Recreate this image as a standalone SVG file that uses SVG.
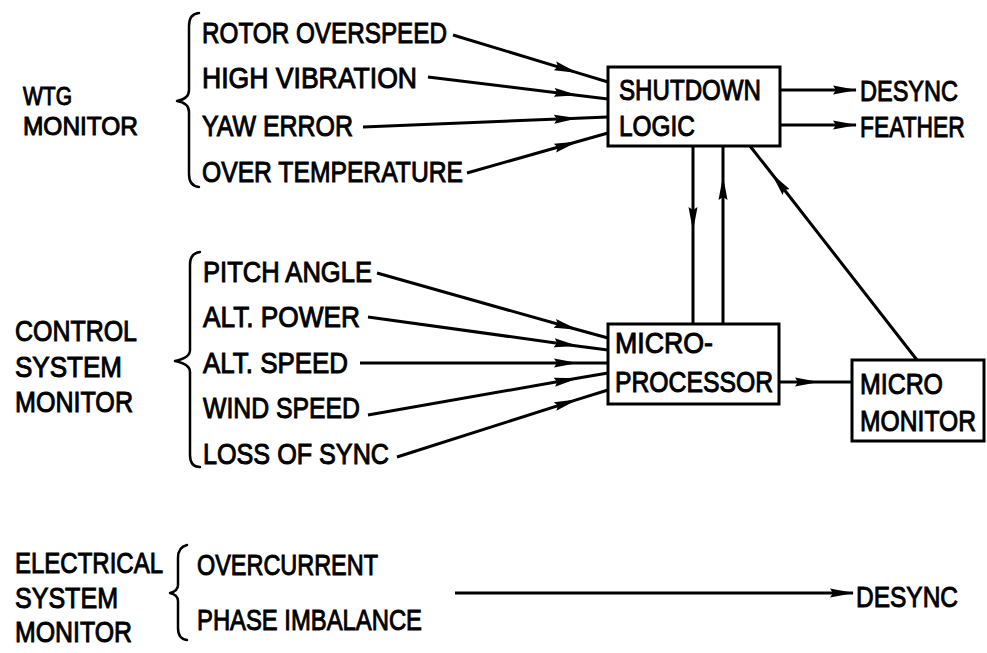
<svg xmlns="http://www.w3.org/2000/svg" width="987" height="653" viewBox="0 0 987 653">
<style>
.t{font-family:"Liberation Sans Narrow","Liberation Sans",Arial,sans-serif;font-size:30px;fill:#000;stroke:#000;stroke-width:1}
.s{font-size:26px}
.box{fill:#fff;stroke:#000;stroke-width:3}
.ln{fill:none;stroke:#000;stroke-width:3;stroke-linejoin:round}
.brace{fill:none;stroke:#000;stroke-width:2.5;stroke-linecap:round;stroke-linejoin:round}
</style>
<defs>
<marker id="ah" markerUnits="userSpaceOnUse" viewBox="0 0 24 10" refX="23" refY="5" markerWidth="24" markerHeight="10" orient="auto">
<path d="M0,0.5 L24,5 L0,9.5 L3,5 z" fill="#000"/>
</marker>
</defs>
<rect width="987" height="653" fill="#fff"/>

<g id="wtg-monitor">
<text class="t s" x="23" y="105" textLength="49" lengthAdjust="spacingAndGlyphs">WTG</text>
<text class="t s" x="23" y="135" textLength="115" lengthAdjust="spacingAndGlyphs">MONITOR</text>
<path class="brace" d="M199,13 Q189,14 189,26 L189,90 Q189,99 177,101 Q189,103 189,112 L189,174 Q189,186 199,187"/>
<text class="t" x="202" y="43" textLength="245" lengthAdjust="spacingAndGlyphs">ROTOR OVERSPEED</text>
<text class="t" x="202" y="88" textLength="215" lengthAdjust="spacingAndGlyphs">HIGH VIBRATION</text>
<text class="t" x="202" y="136" textLength="151" lengthAdjust="spacingAndGlyphs">YAW ERROR</text>
<text class="t" x="202" y="182" textLength="261" lengthAdjust="spacingAndGlyphs">OVER TEMPERATURE</text>
</g>

<g id="control-monitor">
<text class="t" x="15" y="341" textLength="122" lengthAdjust="spacingAndGlyphs">CONTROL</text>
<text class="t" x="15" y="377" textLength="107" lengthAdjust="spacingAndGlyphs">SYSTEM</text>
<text class="t" x="15" y="412" textLength="118" lengthAdjust="spacingAndGlyphs">MONITOR</text>
<path class="brace" d="M200,252 Q190,253 190,265 L190,350 Q190,358 175,361 Q190,364 190,372 L190,455 Q190,467 200,467"/>
<text class="t" x="203" y="282" textLength="169" lengthAdjust="spacingAndGlyphs">PITCH ANGLE</text>
<text class="t" x="203" y="327" textLength="157" lengthAdjust="spacingAndGlyphs">ALT. POWER</text>
<text class="t" x="203" y="373" textLength="145" lengthAdjust="spacingAndGlyphs">ALT. SPEED</text>
<text class="t" x="203" y="418" textLength="157" lengthAdjust="spacingAndGlyphs">WIND SPEED</text>
<text class="t" x="203" y="464" textLength="186" lengthAdjust="spacingAndGlyphs">LOSS OF SYNC</text>
</g>

<g id="electrical-monitor">
<text class="t" x="15" y="573" textLength="148" lengthAdjust="spacingAndGlyphs">ELECTRICAL</text>
<text class="t" x="15" y="608" textLength="103" lengthAdjust="spacingAndGlyphs">SYSTEM</text>
<text class="t" x="15" y="642" textLength="117" lengthAdjust="spacingAndGlyphs">MONITOR</text>
<path class="brace" d="M187,545 Q178,547 178,558 L178,585 Q178,591 170,593 Q178,595 178,601 L178,628 Q178,639 187,640"/>
<text class="t" x="197" y="575" textLength="181" lengthAdjust="spacingAndGlyphs">OVERCURRENT</text>
<text class="t" x="197" y="630" textLength="225" lengthAdjust="spacingAndGlyphs">PHASE IMBALANCE</text>
</g>

<g id="shutdown-logic">
<rect class="box" x="608" y="67" width="172" height="79"/>
<text class="t" x="619" y="100" textLength="142" lengthAdjust="spacingAndGlyphs">SHUTDOWN</text>
<text class="t" x="619" y="136" textLength="76" lengthAdjust="spacingAndGlyphs">LOGIC</text>
</g>

<g id="microprocessor">
<rect class="box" x="608" y="324" width="171" height="80"/>
<text class="t" x="615" y="353" textLength="98" lengthAdjust="spacingAndGlyphs">MICRO-</text>
<text class="t" x="615" y="392" textLength="158" lengthAdjust="spacingAndGlyphs">PROCESSOR</text>
</g>

<g id="micro-monitor">
<rect class="box" x="852" y="360" width="132" height="81"/>
<text class="t" x="860" y="394" textLength="83" lengthAdjust="spacingAndGlyphs">MICRO</text>
<text class="t" transform="translate(860,431) scale(0.8,1)" x="0" y="0" textLength="145" lengthAdjust="spacingAndGlyphs">MONITOR</text>
</g>

<g id="outputs">
<text class="t" x="860" y="101" textLength="98" lengthAdjust="spacingAndGlyphs">DESYNC</text>
<text class="t" transform="translate(860,137) scale(0.8,1)" x="0" y="0" textLength="131" lengthAdjust="spacingAndGlyphs">FEATHER</text>
<text class="t" x="856" y="607" textLength="102" lengthAdjust="spacingAndGlyphs">DESYNC</text>
</g>

<g id="connectors">
<path class="ln" marker-mid="url(#ah)" d="M453,35 L577,72.6 L608,82"/>
<path class="ln" marker-mid="url(#ah)" d="M428,77 L577,95.2 L608,99"/>
<path class="ln" marker-mid="url(#ah)" d="M363,127 L577,118.3 L608,117"/>
<path class="ln" marker-mid="url(#ah)" d="M467,173 L577,141.8 L608,133"/>
<path class="ln" marker-mid="url(#ah)" d="M377,273 L577,329.5 L608,338"/>
<path class="ln" marker-mid="url(#ah)" d="M368,317 L577,345.9 L608,350"/>
<path class="ln" marker-mid="url(#ah)" d="M360,363 L577,363 L608,363"/>
<path class="ln" marker-mid="url(#ah)" d="M368,415 L577,378.3 L608,373"/>
<path class="ln" marker-mid="url(#ah)" d="M397,457 L577,399.6 L608,390"/>
<path class="ln" marker-end="url(#ah)" d="M780,90 L856,90"/>
<path class="ln" marker-end="url(#ah)" d="M780,125 L856,125"/>
<path class="ln" marker-mid="url(#ah)" d="M693,146 L693,230 L693,324"/>
<path class="ln" marker-mid="url(#ah)" d="M723,324 L723,177 L723,146"/>
<path class="ln" marker-mid="url(#ah)" d="M917,360 L772,174 L750,146"/>
<path class="ln" marker-mid="url(#ah)" d="M779,382 L818,382 L852,382"/>
<path class="ln" marker-end="url(#ah)" d="M455,593 L853,593"/>
</g>
</svg>
